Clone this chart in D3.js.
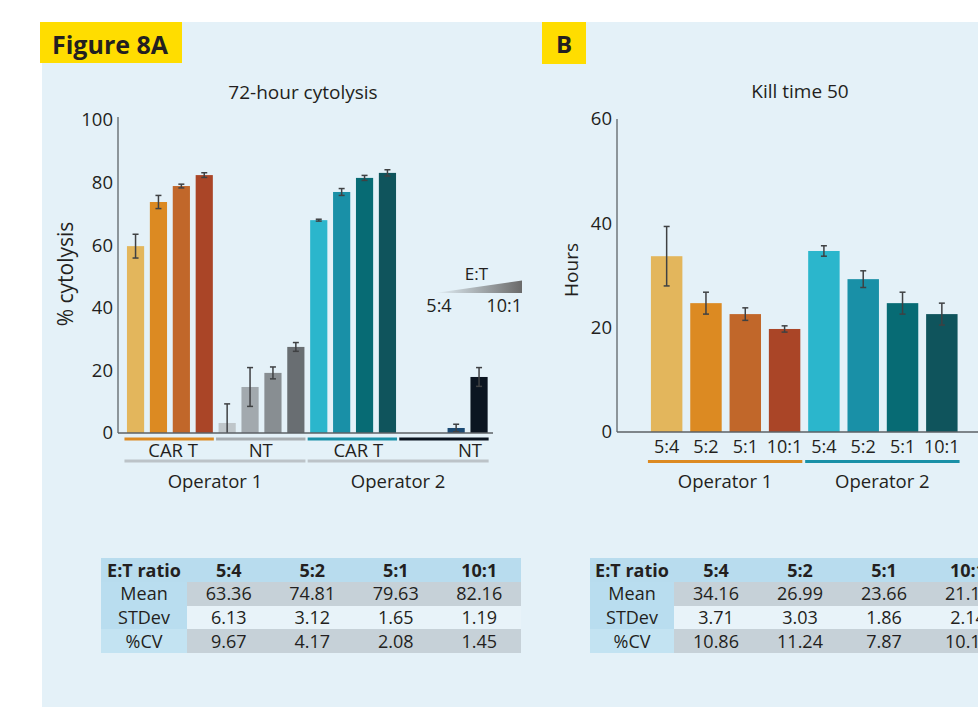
<!DOCTYPE html>
<html>
<head>
<meta charset="utf-8">
<script src="https://cdn.jsdelivr.net/npm/d3@7"></script>
<style>
  body { margin: 0; background: #fff; }
  svg { display: block; font-family: 'Open Sans', sans-serif; }
  text { fill: #231f20; }
</style>
</head>
<body>
<div id="chart"></div>
<script>
// values
var etRatios = ['5:4', '5:2', '5:1', '10:1']
var cytoGroups = ['CAR T', 'NT', 'CAR T', 'NT']
var operators = ['Operator 1', 'Operator 2']
var cytoMeans = [59.7, 73.8, 78.9, 82.4, 3.2, 14.7, 19.2, 27.5, 68.0, 77.0, 81.5, 83.1, 0, 0, 1.6, 17.9]
var cytoErr = [3.8, 2.1, 0.6, 0.75, 6.1, 6.2, 1.9, 1.4, 0.3, 1.1, 0.8, 1.0, 0, 0, 1.2, 3.0]
var killMeans = [33.7, 24.7, 22.6, 19.75, 34.7, 29.3, 24.7, 22.6]
var killErr = [5.7, 2.1, 1.2, 0.6, 1.0, 1.6, 2.1, 2.1]
var cytoTicks = [0, 20, 40, 60, 80, 100]
var killTicks = [0, 20, 40, 60]
var statRows = ['Mean', 'STDev', '%CV']
var cytoStats = [
  ['63.36', '74.81', '79.63', '82.16'],
  ['6.13', '3.12', '1.65', '1.19'],
  ['9.67', '4.17', '2.08', '1.45']
]
var killStats = [
  ['34.16', '26.99', '23.66', '21.17'],
  ['3.71', '3.03', '1.86', '2.14'],
  ['10.86', '11.24', '7.87', '10.11']
]

var cytoColors = ['#e3b65c', '#dc8a22', '#c1672a', '#aa4527',
  '#bfc6ca', '#a2a9ae', '#888e92', '#696e72',
  '#2bb6cc', '#1990a7', '#076b74', '#0f545c',
  '#1b4a73', '#1b4a73', '#1b4a73', '#0b1521']
var groupLineColors = ['#dc8a22', '#a7adb1', '#1990a7', '#0b1521']
var killColors = ['#e3b65c', '#dc8a22', '#c1672a', '#aa4527', '#2bb6cc', '#1990a7', '#076b74', '#0f545c']

var svg = d3
  .select('#chart')
  .append('svg')
  .attr('width', 978)
  .attr('height', 707)

// panel background
svg
  .append('rect')
  .attr('x', 42)
  .attr('y', 22)
  .attr('width', 936)
  .attr('height', 685)
  .attr('fill', '#e4f1f8')

// yellow figure labels
svg.append('rect').attr('x', 40).attr('y', 22).attr('width', 142).attr('height', 41).attr('fill', '#ffdd00')
svg.append('text').text('Figure 8A').attr('x', 52).attr('y', 54)
  .attr('font-size', 25).attr('font-weight', 'bold')
svg.append('rect').attr('x', 542).attr('y', 22).attr('width', 44).attr('height', 42).attr('fill', '#ffdd00')
svg.append('text').text('B').attr('x', 564).attr('y', 53)
  .attr('text-anchor', 'middle').attr('font-size', 24).attr('font-weight', 'bold')

var errColor = '#3f4143'

function errorBars(g, means, errs, x, y) {
  var data = means.map(function(m, i) { return { i: i, m: m, e: errs[i] } })
    .filter(function(d) { return d.e > 0 })
  var cx = function(d) { return x(d.i) + x.bandwidth() / 2 }
  var eb = g.selectAll('.err').data(data).enter().append('g').attr('class', 'err')
  eb.append('line')
    .attr('x1', cx).attr('x2', cx)
    .attr('y1', function(d) { return y(d.m + d.e) })
    .attr('y2', function(d) { return y(Math.max(0, d.m - d.e)) })
    .attr('stroke', errColor).attr('stroke-width', 1.5)
  eb.append('line')
    .attr('x1', function(d) { return cx(d) - 3 }).attr('x2', function(d) { return cx(d) + 3 })
    .attr('y1', function(d) { return y(d.m + d.e) }).attr('y2', function(d) { return y(d.m + d.e) })
    .attr('stroke', errColor).attr('stroke-width', 1.5)
  eb.filter(function(d) { return d.m - d.e > 0 })
    .append('line')
    .attr('x1', function(d) { return cx(d) - 3 }).attr('x2', function(d) { return cx(d) + 3 })
    .attr('y1', function(d) { return y(d.m - d.e) }).attr('y2', function(d) { return y(d.m - d.e) })
    .attr('stroke', errColor).attr('stroke-width', 1.5)
}

function yAxis(g, y, ticks, axisX, top) {
  g.append('g')
    .attr('transform', 'translate(' + axisX + ',0)')
    .call(d3.axisLeft(y).tickValues(ticks).tickSize(0).tickPadding(5))
    .call(function(a) {
      a.select('.domain').remove()
      a.selectAll('text').attr('font-size', 18.5).attr('font-family', 'Open Sans').attr('fill', '#231f20')
    })
  g.append('line')
    .attr('x1', axisX).attr('x2', axisX)
    .attr('y1', y(0)).attr('y2', top)
    .attr('stroke', '#6f767b').attr('stroke-width', 1.5)
}

// ---------- A: 72-hour cytolysis ----------
var gA = svg.append('g')
var xA = d3.scaleBand()
  .domain(cytoMeans.map(function(d, i) { return i }))
  .range([124.1, 490.5])
  .paddingInner(0.25)
  .paddingOuter(0.125)
var yA = d3.scaleLinear().domain([0, 100]).range([433, 120])

gA.append('text').text('72-hour cytolysis')
  .attr('x', 303).attr('y', 98.5).attr('text-anchor', 'middle').attr('font-size', 19)

gA.selectAll('.bar')
  .data(cytoMeans)
  .enter()
  .append('rect')
  .attr('class', 'bar')
  .attr('x', function(d, i) { return xA(i) })
  .attr('width', xA.bandwidth())
  .attr('y', function(d) { return yA(d) })
  .attr('height', function(d) { return yA(0) - yA(d) })
  .attr('fill', function(d, i) { return cytoColors[i] })

errorBars(gA, cytoMeans, cytoErr, xA, yA)
yAxis(gA, yA, cytoTicks, 118, 117)

gA.append('line')
  .attr('x1', 118).attr('x2', 493)
  .attr('y1', yA(0)).attr('y2', yA(0))
  .attr('stroke', '#5c6166').attr('stroke-width', 1.5)

gA.append('text').text('% cytolysis')
  .attr('transform', 'translate(73,274) rotate(-90)')
  .attr('text-anchor', 'middle').attr('font-size', 21)

var labelShift = [4, 0, 6, 26]
cytoGroups.forEach(function(name, gi) {
  var x0 = xA(gi * 4) - 2.5
  var x1 = xA(gi * 4 + 3) + xA.bandwidth() + 1
  gA.append('line')
    .attr('x1', x0).attr('x2', x1).attr('y1', 439).attr('y2', 439)
    .attr('stroke', groupLineColors[gi]).attr('stroke-width', 3)
  gA.append('text').text(name)
    .attr('x', (x0 + x1) / 2 + labelShift[gi]).attr('y', 457)
    .attr('text-anchor', 'middle').attr('font-size', 18.5)
})
operators.forEach(function(name, oi) {
  var x0 = xA(oi * 8) - 2.5
  var x1 = xA(oi * 8 + 7) + xA.bandwidth() + 1
  gA.append('line')
    .attr('x1', x0).attr('x2', x1).attr('y1', 461).attr('y2', 461)
    .attr('stroke', '#bcc3c8').attr('stroke-width', 3)
  gA.append('text').text(name)
    .attr('x', (x0 + x1) / 2).attr('y', 487.5)
    .attr('text-anchor', 'middle').attr('font-size', 18.5)
})

// E:T wedge legend
var grad = svg.append('defs').append('linearGradient').attr('id', 'wedge')
grad.append('stop').attr('offset', '0%').attr('stop-color', '#e4f1f8')
grad.append('stop').attr('offset', '100%').attr('stop-color', '#6a6a6a')
gA.append('path')
  .attr('d', 'M435,293 L522,280.5 L522,293 Z')
  .attr('fill', 'url(#wedge)')
gA.append('text').text('E:T').attr('x', 476.5).attr('y', 280)
  .attr('text-anchor', 'middle').attr('font-size', 17)
gA.append('text').text(etRatios[0]).attr('x', 439).attr('y', 312)
  .attr('text-anchor', 'middle').attr('font-size', 18)
gA.append('text').text(etRatios[3]).attr('x', 522).attr('y', 312)
  .attr('text-anchor', 'end').attr('font-size', 18)

// ---------- B: Kill time 50 ----------
var gB = svg.append('g')
var xB = d3.scaleBand()
  .domain(killMeans.map(function(d, i) { return i }))
  .range([647, 961.5])
  .paddingInner(0.2)
  .paddingOuter(0.1)
var yB = d3.scaleLinear().domain([0, 60]).range([432, 119])

gB.append('text').text('Kill time 50')
  .attr('x', 800).attr('y', 98).attr('text-anchor', 'middle').attr('font-size', 19)

gB.selectAll('.bar')
  .data(killMeans)
  .enter()
  .append('rect')
  .attr('class', 'bar')
  .attr('x', function(d, i) { return xB(i) })
  .attr('width', xB.bandwidth())
  .attr('y', function(d) { return yB(d) })
  .attr('height', function(d) { return yB(0) - yB(d) })
  .attr('fill', function(d, i) { return killColors[i] })

errorBars(gB, killMeans, killErr, xB, yB)
yAxis(gB, yB, killTicks, 617, 119)

gB.append('line')
  .attr('x1', 617).attr('x2', 978)
  .attr('y1', yB(0)).attr('y2', yB(0))
  .attr('stroke', '#5c6166').attr('stroke-width', 1.5)

gB.append('text').text('Hours')
  .attr('transform', 'translate(578,270) rotate(-90)')
  .attr('text-anchor', 'middle').attr('font-size', 19)

gB.selectAll('.xlab')
  .data(killMeans)
  .enter()
  .append('text')
  .attr('class', 'xlab')
  .text(function(d, i) { return etRatios[i % 4] })
  .attr('x', function(d, i) { return xB(i) + xB.bandwidth() / 2 })
  .attr('y', 453)
  .attr('text-anchor', 'middle')
  .attr('font-size', 18)

operators.forEach(function(name, oi) {
  var x0 = xB(oi * 4) - 3
  var x1 = xB(oi * 4 + 3) + xB.bandwidth() + 2
  gB.append('line')
    .attr('x1', x0).attr('x2', x1).attr('y1', 461.5).attr('y2', 461.5)
    .attr('stroke', groupLineColors[oi * 2]).attr('stroke-width', 3)
  gB.append('text').text(name)
    .attr('x', (x0 + x1) / 2).attr('y', 488)
    .attr('text-anchor', 'middle').attr('font-size', 18.5)
})

// ---------- tables ----------
function statTable(left, firstW, colW, stats) {
  var top = 558
  var rowH = 23.75
  var g = svg.append('g')
  var header = ['E:T ratio'].concat(etRatios)
  var rows = [header].concat(stats.map(function(r, i) { return [statRows[i]].concat(r) }))
  rows.forEach(function(row, ri) {
    row.forEach(function(cell, ci) {
      var cx = ci === 0 ? left : left + firstW + (ci - 1) * colW
      var w = ci === 0 ? firstW : colW
      var fill
      if (ri === 0) fill = '#b8dcee'
      else if (ci === 0) fill = ri === 3 ? '#c3e3f2' : '#b9ddef'
      else fill = ri === 2 ? '#e8f3f9' : '#c6d1d8'
      g.append('rect')
        .attr('x', Math.round(cx)).attr('y', Math.round(top + ri * rowH))
        .attr('width', Math.round(cx + w) - Math.round(cx))
        .attr('height', Math.round(top + (ri + 1) * rowH) - Math.round(top + ri * rowH))
        .attr('shape-rendering', 'crispEdges')
        .attr('fill', fill)
      g.append('text').text(cell)
        .attr('x', cx + w / 2).attr('y', top + ri * rowH + 18.5)
        .attr('text-anchor', 'middle')
        .attr('font-size', 18)
        .attr('font-weight', ri === 0 ? 'bold' : 'normal')
    })
  })
}
statTable(101, 86, 83.5, cytoStats)
statTable(590, 84, 84, killStats)
</script>
</body>
</html>
